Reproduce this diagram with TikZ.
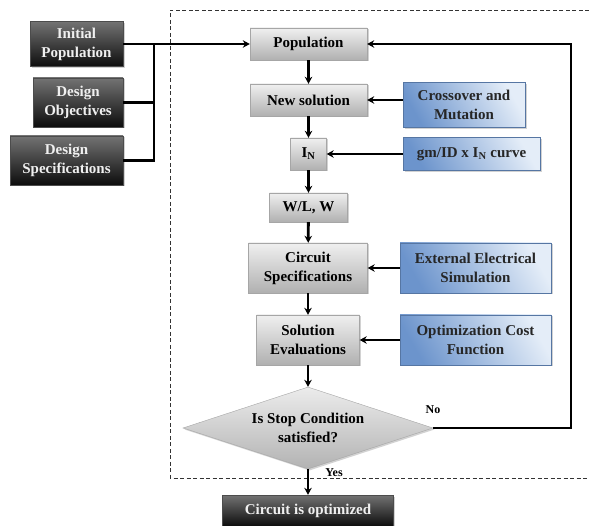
\documentclass[tikz,border=0pt]{standalone}
\usepackage{fontspec}
\setmainfont{Liberation Serif}
\usetikzlibrary{shapes.geometric,arrows.meta,shadows}
\definecolor{bluedark}{RGB}{108,148,204}
\definecolor{bluelight}{RGB}{228,237,248}
\begin{document}
\begin{tikzpicture}[x=1pt,y=-1pt,
  base/.style={rectangle, inner sep=0pt, align=center,
    font=\fontsize{15}{19}\selectfont\bfseries,
    drop shadow={opacity=0.35, shadow xshift=1.5pt, shadow yshift=-1.5pt}},
  graybox/.style={base, draw=gray!70, top color=gray!12, bottom color=gray!62, text=black},
  darkbox/.style={base, draw=black!70, top color=black!55, bottom color=black!95, text=white!88!gray},
  bluebox/.style={base, draw=bluedark!80!black, top color=bluelight, bottom color=bluedark, shading angle=-60, text=black!85},
  decision/.style={diamond, inner sep=0pt, align=center, aspect=3,
    font=\fontsize{15}{19}\selectfont\bfseries, draw=gray!70, top color=gray!15, bottom color=gray!60,
    drop shadow={opacity=0.35, shadow xshift=1.5pt, shadow yshift=-1.5pt}},
  arr/.style={line width=2.8pt, -{Stealth[length=7pt,width=7.5pt]}},
  ln/.style={line width=2.8pt},
  lbl/.style={font=\fontsize{12}{14}\selectfont\bfseries, inner sep=0pt}
]
\useasboundingbox (0,0) rectangle (589,526);
\fill[white] (0,0) rectangle (589,526);

% dashed frame
\draw[dashed, dash pattern=on 4pt off 2.5pt, gray!40!black, line width=0.9pt]
  (589,10) -- (170,10) -- (170,478) -- (589,478);

% left inputs
\node[darkbox, minimum width=93pt, minimum height=45pt] (init) at (76.5,44) {Initial\\Population};
\node[darkbox, minimum width=90pt, minimum height=49pt] (obj) at (78,102.5) {Design\\Objectives};
\node[darkbox, minimum width=113pt, minimum height=49pt] (spec) at (66.5,160.5) {Design\\Specifications};

% main chain
\node[graybox, minimum width=117pt, minimum height=32pt] (pop) at (308.5,44) {Population};
\node[graybox, minimum width=117pt, minimum height=32pt] (newsol) at (308.5,100) {New solution};
\node[graybox, minimum width=36pt, minimum height=32pt] (in) at (308.5,154) {I\textsubscript{N}};
\node[graybox, minimum width=78pt, minimum height=29pt] (wl) at (308.5,207.5) {W/L, W};
\node[graybox, minimum width=119pt, minimum height=50pt] (cs) at (308,268) {Circuit\\Specifications};
\node[graybox, minimum width=103pt, minimum height=50pt] (se) at (308,340) {Solution\\Evaluations};
\node[decision, minimum width=250pt, minimum height=82pt] (d) at (308,428) {Is Stop Condition\\satisfied?};
\node[darkbox, minimum width=171pt, minimum height=31pt] (opt) at (308,510.5) {Circuit is optimized};

% blue side inputs
\node[bluebox, minimum width=122pt, minimum height=45pt] (cm) at (464,105) {Crossover and\\Mutation};
\node[bluebox, minimum width=137pt, minimum height=33pt] (gm) at (471.5,154) {gm/ID x I\textsubscript{N} curve};
\node[bluebox, minimum width=151pt, minimum height=50pt] (ext) at (475.5,268) {External Electrical\\Simulation};
\node[bluebox, minimum width=151pt, minimum height=50pt] (oc) at (475.5,340) {Optimization Cost\\Function};

% left connectors
\coordinate (j) at (154,44);
\draw[arr] (init.east) -- (pop.west);
\draw[ln] (obj.east) -- (obj.east -| j);
\draw[ln] (spec.east) -| (j);

% main flow
\draw[arr] (pop) -- (newsol);
\draw[arr] (newsol) -- (in);
\draw[arr] (in) -- (wl);
\draw[arr] (wl) -- (cs);
\draw[arr] (cs) -- (se);
\draw[arr] (se) -- (d);
\draw[arr] (d) -- (opt);

% side inputs
\draw[arr] (cm.west |- newsol.east) -- (newsol.east);
\draw[arr] (gm.west) -- (in.east);
\draw[arr] (ext.west) -- (cs.east);
\draw[arr] (oc.west) -- (se.east);

% feedback
\coordinate (fb) at (571,428);
\draw[arr] (d.east) -- (fb) |- (pop.east);

% labels
\node[lbl] (no) at (433,410) {No};
\node[lbl] (yes) at (334,473) {Yes};
\end{tikzpicture}
\end{document}
